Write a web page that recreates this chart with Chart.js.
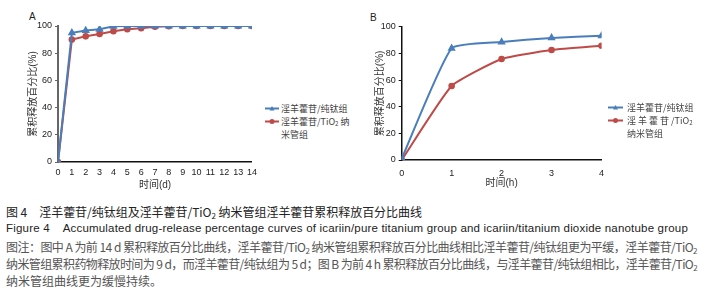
<!DOCTYPE html>
<html>
<head>
<meta charset="utf-8">
<script src="https://cdn.jsdelivr.net/npm/chart.js@4.4.0/dist/chart.umd.min.js"></script>
<style>
body { margin: 0; background: #fff; width: 716px; height: 294px; position: relative; overflow: hidden; font-family: "Liberation Sans", "Noto Sans CJK SC", sans-serif; }
.panel { position: absolute; top: 0; }
.tag { position: absolute; font-size: 10px; color: #222; line-height: 10px; }
.legend { position: absolute; font-family: "Noto Sans CJK SC", sans-serif; font-size: 9px; color: #444; line-height: 13px; }
.legend .row { position: relative; white-space: pre; }
.legend svg { position: absolute; left: 0; top: 3px; }
sub { font-size: 6px; line-height: 0; vertical-align: -1px; }
.cap { position: absolute; left: 6px; font-family: "Noto Sans CJK SC", sans-serif; font-size: 12px; line-height: 17px; white-space: pre; display: inline-block; }
.cap sub { font-size: 8px; vertical-align: -2px; }
.dark { color: #222; }
.note { color: #555; }
</style>
</head>
<body>
<div class="tag" style="left:29px;top:12px;">A</div>
<div class="tag" style="left:370px;top:13px;">B</div>

<div class="panel" style="left:0;"><canvas id="chartA" width="262" height="200"></canvas></div>
<div class="panel" style="left:360px;"><canvas id="chartB" width="252" height="200"></canvas></div>

<div class="legend" style="left:265px;top:101.5px;">
  <div class="row" style="padding-left:16px;"><svg width="14" height="7"><line x1="0" y1="3.5" x2="14" y2="3.5" stroke="#4a7ebb" stroke-width="2"/><polygon points="7,1 9.5,5.5 4.5,5.5" fill="#4a7ebb"/></svg>淫羊藿苷/纯钛组</div>
  <div class="row" style="padding-left:16px;"><svg width="14" height="7"><line x1="0" y1="3.5" x2="14" y2="3.5" stroke="#be4b48" stroke-width="2"/><circle cx="7" cy="3.5" r="2.5" fill="#be4b48"/></svg>淫羊藿苷/TiO<sub>2</sub> 纳
米管组</div>
</div>

<div class="legend" style="left:608px;top:100.5px;">
  <div class="row" style="padding-left:19px;"><svg width="15" height="7"><line x1="0" y1="3.5" x2="15" y2="3.5" stroke="#4a7ebb" stroke-width="2"/><polygon points="7.5,1 10,5.5 5,5.5" fill="#4a7ebb"/></svg>淫羊藿苷/纯钛组</div>
  <div class="row" style="padding-left:19px;"><svg width="15" height="7"><line x1="0" y1="3.5" x2="15" y2="3.5" stroke="#be4b48" stroke-width="2"/><circle cx="7.5" cy="3.5" r="2.5" fill="#be4b48"/></svg>淫 羊 藿 苷 /TiO<sub>2</sub>
纳米管组</div>
</div>

<div class="cap dark" id="cap1" style="top:202.5px;">图 4　淫羊藿苷/纯钛组及淫羊藿苷/TiO<sub>2</sub> 纳米管组淫羊藿苷累积释放百分比曲线</div>
<div class="cap dark" id="cap2" style="top:219.5px;font-family:'Liberation Sans',sans-serif;font-size:11.5px;">Figure 4    Accumulated drug-release percentage curves of icariin/pure titanium group and icariin/titanium dioxide nanotube group</div>
<div class="cap note" id="cap3" style="top:237.5px;">图注：图中 A 为前 14 d 累积释放百分比曲线，淫羊藿苷/TiO<sub>2</sub> 纳米管组累积释放百分比曲线相比淫羊藿苷/纯钛组更为平缓，淫羊藿苷/TiO<sub>2</sub></div>
<div class="cap note" id="cap4" style="top:254.5px;">纳米管组累积药物释放时间为 9 d，而淫羊藿苷/纯钛组为 5 d；图 B 为前 4 h 累积释放百分比曲线，与淫羊藿苷/纯钛组相比，淫羊藿苷/TiO<sub>2</sub></div>
<div class="cap note" id="cap5" style="top:271.5px;">纳米管组曲线更为缓慢持续。</div>

<script>
// panel A: first 14 days
const daysA = [0, 1, 2, 3, 4, 5, 6, 7, 8, 9, 10, 11, 12, 13, 14];
const pureTiA = [0, 95.0, 96.7, 97.6, 99.8, 100, 100, 100, 100, 100, 100, 100, 100, 100, 100];
const tio2A = [0, 90.0, 92.4, 94.1, 96.1, 97.6, 98.3, 99.4, 99.8, 100, 100, 100, 100, 100, 100];

// panel B: first 4 hours
const hoursB = [0, 1, 2, 3, 4];
const pureTiB = [1, 83.8, 88.5, 91.6, 93.2];
const tio2B = [0, 55.5, 75.8, 82.5, 85.7];

const yTicks = [0, 20, 40, 60, 80, 100];
const seriesNames = ["淫羊藿苷/纯钛组", "淫羊藿苷/TiO2 纳米管组"];
const blue = "#4a7ebb";
const red = "#be4b48";

Chart.defaults.font.family = "'Liberation Sans', 'Noto Sans CJK SC', sans-serif";
Chart.defaults.color = "#222";

function makeChart(id, xs, s1, s2, o) {
    const data = {
        datasets: [
            {
                label: seriesNames[0],
                data: xs.map((x, i) => ({ x: x, y: s1[i] })),
                borderColor: blue,
                backgroundColor: blue,
                borderWidth: 2,
                pointStyle: "triangle",
                pointRadius: 2.8,
                tension: o.tension
            },
            {
                label: seriesNames[1],
                data: xs.map((x, i) => ({ x: x, y: s2[i] })),
                borderColor: red,
                backgroundColor: red,
                borderWidth: 2,
                pointStyle: "circle",
                pointRadius: 2.3,
                tension: o.tension
            }
        ]
    };
    const config = {
        type: "line",
        data: data,
        options: {
            responsive: false,
            animation: false,
            layout: { padding: { top: o.top, right: o.right, left: 0, bottom: 0 } },
            plugins: { legend: { display: false }, tooltip: { enabled: false } },
            scales: {
                x: {
                    type: "linear",
                    min: xs[0],
                    max: xs[xs.length - 1],
                    afterBuildTicks: s => { s.ticks = xs.map(v => ({ value: v })); },
                    afterFit: s => { s.height = o.xHeight; },
                    grid: { display: false, drawTicks: false },
                    border: { display: true, color: "#111", width: 1.5 },
                    ticks: { font: { size: 9 }, padding: o.xPad, maxRotation: 0, autoSkip: false },
                    title: { display: true, text: o.xTitle, font: { size: 10 }, color: "#333", padding: { top: 0, bottom: o.xTitlePad } }
                },
                y: {
                    min: 0,
                    max: 100,
                    afterBuildTicks: s => { s.ticks = yTicks.map(v => ({ value: v })); },
                    afterFit: s => { s.width = o.yWidth; },
                    grid: { display: true, drawOnChartArea: false, drawTicks: true, tickLength: 3, color: o.yColor },
                    border: { display: true, color: o.yColor, width: o.yBorder },
                    ticks: { font: { size: 9 }, padding: 3 },
                    title: { display: true, text: "累积释放百分比(%)", font: { size: 10 }, color: "#333", padding: { top: o.yTitlePad, bottom: 0 } }
                }
            }
        }
    };
    return new Chart(document.getElementById(id), config);
}

makeChart("chartA", daysA, pureTiA, tio2A, {
    tension: 0, top: 26, right: 10, xHeight: 38, xPad: 5, xTitle: "时间(d)", xTitlePad: 9,
    yWidth: 58, yColor: "#666", yBorder: 2, yTitlePad: 27
});
makeChart("chartB", hoursB, pureTiB, tio2B, {
    tension: 0.15, top: 26.7, right: 10.3, xHeight: 40, xPad: 8, xTitle: "时间(h)", xTitlePad: 11,
    yWidth: 41.7, yColor: "#111", yBorder: 1.5, yTitlePad: 14
});

// stretch caption lines to the widths they take in the figure
function fitLine(id, width) {
    const el = document.getElementById(id);
    el.style.letterSpacing = "0px";
    const natural = el.getBoundingClientRect().width;
    const n = el.textContent.length;
    el.style.letterSpacing = ((width - natural) / n) + "px";
}
fitLine("cap1", 416);
fitLine("cap2", 682);
fitLine("cap3", 691);
fitLine("cap4", 691);
</script>
</body>
</html>
